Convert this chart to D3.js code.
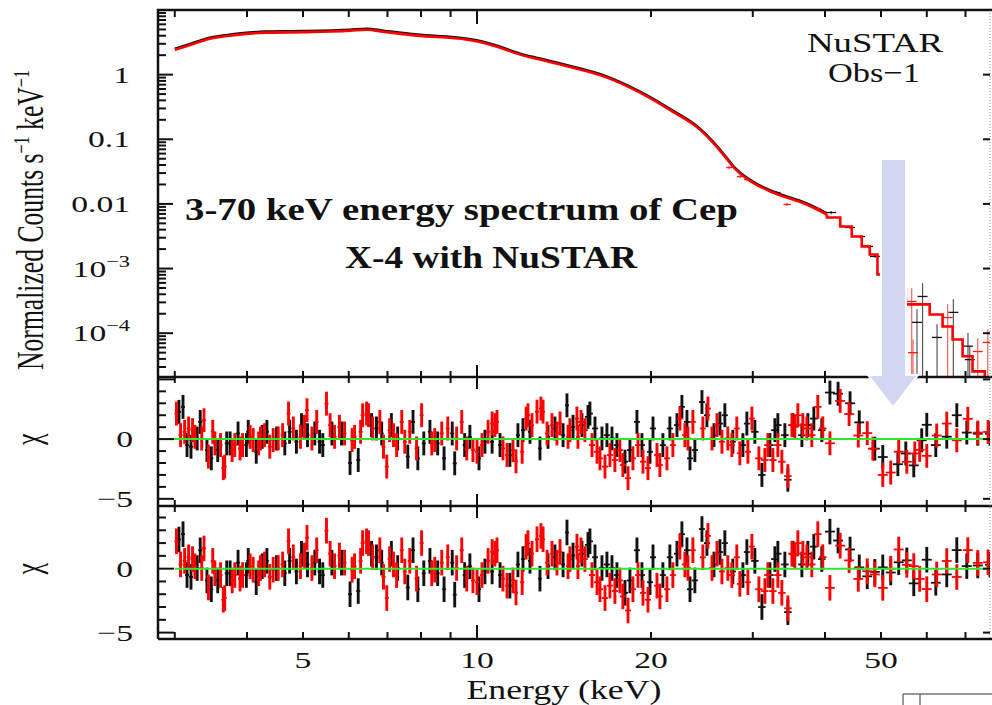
<!DOCTYPE html>
<html><head>
<meta charset="UTF-8">
<title>Cep X-4 NuSTAR spectrum</title>
<script src="https://d3js.org/d3.v7.min.js"></script>
<style>
  body { margin: 0; background: #fff; }
  svg { display: block; }
  text { font-family: "Liberation Serif", "Times New Roman", serif; fill: #111; }
  .frame { stroke: #111; stroke-width: 2.5; fill: none; }
  .tick { stroke: #111; stroke-width: 2; }
</style>
</head>
<body>
<script>
// ---- data ----
// unfolded spectrum (data, keV vs normalized counts)
var specE = [3.0, 3.2, 3.45, 3.8, 4.3, 5.0, 6.03, 6.45, 6.88, 7.87, 9.61, 10.24, 10.96, 11.87, 12.85, 14.66, 16.79, 19.14, 21.8, 24.3, 25.6, 27.1, 27.7, 30.0, 32.5, 37.2, 40.3];
var specF = [2.43, 2.91, 3.6, 4.08, 4.46, 4.54, 4.78, 4.96, 4.62, 4.01, 3.47, 3.12, 2.61, 2.04, 1.71, 1.28, 0.90, 0.527, 0.268, 0.141, 0.089, 0.0486, 0.0379, 0.0214, 0.0150, 0.0098, 0.00686];

// model histogram above 40 keV (bin edges / values)
var stepEdges = [40.3, 42.5, 44.5, 46.3, 47.8, 49.3, 52.0, 55.2, 60.7, 63.9, 66.5, 69.2, 72.0, 75.6, 78.7];
var stepF = [0.00616, 0.00448, 0.00313, 0.0022, 0.00165, 0.00081, 0.00048, 0.000279, 0.000195, 0.000127, 0.000080, 0.000044, 0.0000257, 0.000016];

// individual data crosses in the upper panel
var topRedE = [27.3, 28.5, 29.3, 34.4, 38.8, 56.5, 56.8, 65.2, 73.5, 76.5];
var topRedF = [0.0365, 0.0265, 0.0238, 0.0098, 0.0085, 3.1e-4, 5.0e-5, 1.75e-4, 5.2e-5, 7.2e-5];
var topBlackE = [33.0, 41.0, 44.2, 46.0, 47.5, 48.8, 57.7, 59.0, 62.5, 66.7, 70.7, 71.2];
var topBlackF = [0.0150, 0.00736, 0.00432, 0.00313, 0.0022, 0.00154, 1.47e-4, 3.7e-4, 8.6e-5, 2.1e-4, 6.3e-5, 3.9e-5];

// residuals below 40 keV (same in both chi panels)
var lowBlackE = [3.05,3.10,3.15,3.20,3.28,3.32,3.41,3.47,3.56,3.69,3.74,3.86,3.99,4.02,4.15,4.25,4.33,4.50,4.65,4.74,4.87,4.97,5.09,5.24,5.34,5.41,5.61,5.83,6.03,6.23,6.57,6.70,6.84,7.11,7.29,7.59,7.75,7.90,8.09,8.29,8.55,8.77,9.06,9.15,9.52,9.72,10.08,10.32,10.62,10.96,11.40,11.77,12.01,12.35,12.85,13.27,13.64,14.09,14.31,14.66,15.19,15.56,15.68,16.00,16.45,16.78,17.12,17.46,18.03,18.39,18.91,19.29,19.92,20.16,20.97,21.56,22.18,22.62,23.08,23.36,23.82,24.50,24.99,25.70,26.32,26.84,27.71,28.84,29.30,30.25,31.11,32.12,32.76,33.15,34.09,34.50,35.20,36.48,37.36,38.26,39.49];
var lowBlackChi = [2.28,2.7,-0.5,-0.64,0.05,1.44,-0.92,-1.61,-0.92,-0.36,-0.36,0.47,-0.5,0.61,-1.06,0.19,0.61,0.05,-0.36,0.61,-0.22,1.17,0.33,0.47,-0.22,-0.5,0.47,0.47,-2.0,-1.75,1.17,0.89,0.47,1.17,0.05,-1.47,1.44,-1.61,-0.36,0.61,-0.36,-1.61,0.47,-2.03,-0.5,0.19,-1.61,-0.22,-0.22,-0.5,-1.33,0.33,0.75,0.61,-0.78,0.19,0.89,0.33,2.83,1.03,1.17,1.86,2.14,0.89,0.05,0.33,0.05,-0.5,-1.89,-0.92,1.44,-0.5,-1.06,0.89,-0.5,0.89,1.17,2.7,1.44,-1.61,-0.92,3.1,2.0,0.33,1.3,2.0,-0.22,-0.5,1.3,0.61,-3.0,-0.5,0.75,1.17,0.33,-3.4,1.17,0.33,1.17,1.72,0.75];
var lowRedE = [3.02,3.07,3.12,3.17,3.22,3.25,3.34,3.37,3.43,3.49,3.52,3.60,3.64,3.66,3.77,3.81,3.89,3.93,4.05,4.10,4.19,4.22,4.29,4.38,4.44,4.53,4.61,4.72,4.81,4.95,5.03,5.08,5.18,5.28,5.49,5.57,5.67,5.78,5.90,6.08,6.14,6.29,6.34,6.44,6.49,6.60,6.79,6.89,6.98,7.06,7.17,7.26,7.41,7.50,7.65,7.86,8.02,8.35,8.45,8.69,8.90,9.22,9.41,9.60,9.84,10.00,10.20,10.45,10.62,10.74,10.83,11.09,11.27,11.54,11.68,11.97,12.16,12.25,12.45,12.70,12.90,13.01,13.22,13.48,13.75,13.92,14.37,14.48,14.89,14.95,15.13,15.37,15.81,16.13,16.32,16.65,16.98,17.32,17.67,17.88,18.25,18.61,18.99,19.37,19.76,20.48,20.72,21.31,21.82,22.44,22.89,23.17,23.63,24.59,25.09,25.50,26.01,26.53,27.16,27.60,28.15,28.49,29.42,29.89,30.74,31.48,31.86,32.50,33.15,33.68,34.50,35.06,35.47,35.90,36.62,37.21,37.95,38.87,39.65];
var lowRedChi = [2.14,0.33,0.61,0.89,0.75,0.19,0.05,1.58,-1.47,0.61,-0.36,-0.5,-2.43,-2.3,-0.92,-0.5,-0.78,-0.5,0.19,-0.08,-0.36,0.05,0.33,-0.64,-0.08,0.05,0.33,2.14,0.89,0.19,1.03,2.42,0.05,1.44,2.97,1.17,0.19,1.03,0.47,-0.08,0.19,0.61,2.0,2.14,2.0,0.89,1.44,-0.64,-2.3,0.75,0.33,-0.5,1.44,-0.22,0.61,-0.78,2.0,-0.36,-0.08,0.47,0.89,0.05,1.44,-0.78,-0.92,-1.06,-0.5,0.61,1.31,1.17,1.44,-0.78,-1.33,-0.92,-1.86,-1.06,1.72,2.0,1.17,2.3,2.56,2.3,0.47,1.17,0.47,1.31,0.19,0.75,1.72,0.19,1.44,0.75,-0.5,-1.06,-1.61,-2.3,-1.33,-1.75,-0.92,-2.17,-3.27,-1.61,-0.5,-1.89,-2.43,-1.33,-2.17,-1.61,-0.5,1.72,0.33,0.05,1.44,0.89,2.56,0.05,1.17,-0.22,0.05,-0.5,0.89,-1.19,-1.06,1.72,-1.61,-1.75,-0.5,-1.75,-0.5,-1.89,-3.1,1.17,1.03,2.0,1.17,0.89,0.33,2.7,0.9];

// residuals above 40 keV, middle panel
var midHiBlackE = [40.79,42.14,44.20,45.85,48.78,50.35,53.47,55.19,56.97,58.80,60.00,62.19,64.97,67.62,70.37,73.51,77.2];
var midHiBlackChi = [3.9,3.8,3.0,1.4,-0.8,-1.5,-2.1,-1.2,-2.2,-0.1,1.2,-0.5,0.2,2.0,0.55,0.45,0.45];
var midHiRedE = [40.79,42.49,44.03,45.67,47.33,48.40,50.35,51.97,53.65,55.41,57.20,58.33,60.00,62.42,64.97,67.62,70.65,73.51,76.6];
var midHiRedChi = [-0.35,3.2,2.1,0.3,0.5,-0.8,-3.0,-2.8,-1.05,-1.9,-1.2,-0.9,-1.4,0.3,1.3,-0.1,1.7,0.55,0.6];

// residuals above 40 keV, lower panel
var botHiBlackE = [40.79,42.14,44.20,45.85,47.33,48.78,50.35,51.97,53.65,55.41,56.97,60.00,62.19,64.97,67.62,70.37,73.51,77.2];
var botHiBlackChi = [2.9,2.2,1.5,0.1,-0.6,-0.25,0.1,-0.3,0.5,0.65,-1.15,0.7,-1.1,-0.45,1.45,0.2,0.25,0.3];
var botHiRedE = [40.79,42.49,44.03,45.67,47.33,48.78,50.35,51.97,53.65,55.41,56.97,58.33,60.00,62.42,64.97,67.62,70.65,73.51,76.6];
var botHiRedChi = [-1.5,1.8,0.65,-0.8,-0.2,-0.45,-1.5,0.0,1.5,0.3,0.2,-0.8,-1.6,-0.45,0.6,-0.65,1.45,0.45,0.5];

// tick labels
var xTickLabels = [5, 10, 20, 50];
var specTickVals = [1, 0.1, 0.01, 1e-3, 1e-4];
var specTickText = ["1", "0.1", "0.01", "10|\u22123", "10|\u22124"];
var chiTickVals = [0, -5];
var chiTickText = ["0", "\u22125"];

// ---- layout ----
var W = 992, H = 705;
var xL = 158, xR = 990;

var svg = d3.select("body").append("svg").attr("width", W).attr("height", H);

var x = d3.scaleLog().domain([2.806, 77.8]).range([158, 992]);
var ySpec = d3.scaleLog().domain([2.1e-5, 10]).range([377, 10]);
var yMid = d3.scaleLinear().domain([-5.6, 5.2]).range([506, 377]);
var yBot = d3.scaleLinear().domain([-5.5, 4.9]).range([639, 506]);

// clip regions for each panel
var defs = svg.append("defs");
function clip(id, y0, y1) {
  defs.append("clipPath").attr("id", id).append("rect")
    .attr("x", xL).attr("y", y0).attr("width", xR - xL).attr("height", y1 - y0);
}
clip("cTop", 10, 377); clip("cMid", 377, 506); clip("cBot", 506, 639);

// half bin width (multiplicative, in energy)
function binFac(e) {
  if (e < 15) return 1.008;
  if (e < 30) return 1.012;
  if (e < 40) return 1.015;
  return 1.02;
}

// ---- upper panel: spectrum ----
var gTop = svg.append("g").attr("clip-path", "url(#cTop)");
var specLine = d3.line().curve(d3.curveMonotoneX)
  .x(function(d){ return x(d[0]); }).y(function(d){ return ySpec(d[1]); });

gTop.append("path").datum(d3.zip(specE, specF))
  .attr("d", specLine).attr("transform", "translate(0,-1)")
  .attr("fill", "none").attr("stroke", "#111").attr("stroke-width", 2.6);

function specCrosses(es, fs, color) {
  var pts = d3.zip(es, fs);
  var g = gTop.append("g").attr("stroke", color);
  g.selectAll("line.v").data(pts).join("line").attr("class", "v")
    .attr("x1", function(d){ return x(d[0]); }).attr("x2", function(d){ return x(d[0]); })
    .attr("y1", function(d){ return ySpec(d[0] > 50 ? d[1] * 1.6 : d[1] * 1.06); })
    .attr("y2", function(d){ return ySpec(d[0] > 50 ? d[1] * 0.05 : d[1] / 1.06); })
    .attr("stroke-width", 1.2).attr("stroke-opacity", 0.7);
  g.selectAll("line.h").data(pts).join("line").attr("class", "h")
    .attr("x1", function(d){ return x(d[0] / binFac(d[0])); })
    .attr("x2", function(d){ return x(d[0] * binFac(d[0])); })
    .attr("y1", function(d){ return ySpec(d[1]); }).attr("y2", function(d){ return ySpec(d[1]); })
    .attr("stroke-width", 1.3);
}
specCrosses(topBlackE, topBlackF, "#111");
specCrosses(topRedE, topRedF, "#ff1a1a");

// model: smooth part then histogram
gTop.append("path").datum(d3.zip(specE, specF))
  .attr("d", specLine).attr("fill", "none").attr("stroke", "#ff0000").attr("stroke-width", 2.6);
var stepPts = [[specE[specE.length - 1], specF[specF.length - 1]]]
  .concat(d3.zip(stepEdges, stepF.concat([stepF[stepF.length - 1]])));
var stepLine = d3.line().curve(d3.curveStepAfter)
  .x(function(d){ return x(d[0]); }).y(function(d){ return ySpec(d[1]); });
gTop.append("path").datum(stepPts)
  .attr("d", stepLine)
  .attr("fill", "none").attr("stroke", "#ff0000").attr("stroke-width", 2.6);

// ---- residual panels ----
function residuals(clipId, yS, sets, greenFrom) {
  var g = svg.append("g").attr("clip-path", "url(#" + clipId + ")");
  sets.forEach(function(s) {
    var pts = d3.zip(s.e, s.c);
    var gg = g.append("g").attr("stroke", s.color).attr("stroke-width", 2.9);
    gg.selectAll("line.v").data(pts).join("line").attr("class", "v")
      .attr("x1", function(d){ return x(d[0]); }).attr("x2", function(d){ return x(d[0]); })
      .attr("y1", function(d){ return yS(d[1] - 1); }).attr("y2", function(d){ return yS(d[1] + 1); });
    gg.selectAll("line.h").data(pts).join("line").attr("class", "h")
      .attr("x1", function(d){ return x(d[0] / binFac(d[0])); })
      .attr("x2", function(d){ return x(d[0] * binFac(d[0])); })
      .attr("y1", function(d){ return yS(d[1]); }).attr("y2", function(d){ return yS(d[1]); })
      .attr("stroke-width", 1.8);
  });
  g.append("line")
    .attr("x1", greenFrom ? x(greenFrom) : xL).attr("x2", xR)
    .attr("y1", yS(0)).attr("y2", yS(0))
    .attr("stroke", "#2ee82e").attr("stroke-width", 2);
}
residuals("cMid", yMid, [
  { e: lowBlackE.concat(midHiBlackE), c: lowBlackChi.concat(midHiBlackChi), color: "#111" },
  { e: lowRedE.concat(midHiRedE), c: lowRedChi.concat(midHiRedChi), color: "#ff0000" }
], null);
residuals("cBot", yBot, [
  { e: lowBlackE.concat(botHiBlackE), c: lowBlackChi.concat(botHiBlackChi), color: "#111" },
  { e: lowRedE.concat(botHiRedE), c: lowRedChi.concat(botHiRedChi), color: "#ff0000" }
], 3.0);

// ---- frames and ticks ----
svg.append("path").attr("class", "frame")
  .attr("d", "M" + xL + ",639V10H992M" + xL + ",377H992M" + xL + ",506H992M" + xL + ",639H992");
svg.append("line").attr("x1", xR).attr("x2", xR).attr("y1", 10).attr("y2", 639)
  .attr("stroke", "#888").attr("stroke-width", 1).attr("stroke-dasharray", "1,2");

var xTicks = x.ticks();
function xTickRow(y, up, down) {
  svg.append("g").selectAll("line").data(xTicks).join("line").attr("class", "tick")
    .attr("x1", function(d){ return x(d); }).attr("x2", function(d){ return x(d); })
    .attr("y1", function(d){ return y - (d === 10 ? 2 : 1) * up; })
    .attr("y2", function(d){ return y + (d === 10 ? 2 : 1) * down; });
}
xTickRow(10, 0, 7);
xTickRow(377, 6, 6);
xTickRow(506, 6, 6);
xTickRow(639, 7, 0);

// y ticks upper panel
var sTicks = ySpec.ticks();
function isDecade(v) { return Math.abs(Math.log10(v) - Math.round(Math.log10(v))) < 1e-6; }
svg.append("g").selectAll("line").data(sTicks).join("line").attr("class", "tick")
  .attr("x1", xL).attr("x2", function(d){ return xL + (isDecade(d) ? 15 : 8); })
  .attr("y1", function(d){ return ySpec(d); }).attr("y2", function(d){ return ySpec(d); });
svg.append("g").selectAll("line").data(sTicks.filter(isDecade)).join("line").attr("class", "tick")
  .attr("x1", xR).attr("x2", xR - 7)
  .attr("y1", function(d){ return ySpec(d); }).attr("y2", function(d){ return ySpec(d); });

// y ticks chi panels
[yMid, yBot].forEach(function(yS) {
  var t = d3.range(-5, 6).filter(function(v){ return yS(v) <= yS.range()[0] - 1 && yS(v) >= yS.range()[1] + 1; });
  svg.append("g").selectAll("line").data(t).join("line").attr("class", "tick")
    .attr("x1", xL).attr("x2", function(d){ return xL + (d % 5 === 0 ? 16 : 8); })
    .attr("y1", function(d){ return yS(d); }).attr("y2", function(d){ return yS(d); });
  svg.append("g").selectAll("line").data(t.filter(function(d){ return d % 5 === 0; })).join("line").attr("class", "tick")
    .attr("x1", xR).attr("x2", xR - 7)
    .attr("y1", function(d){ return yS(d); }).attr("y2", function(d){ return yS(d); });
});

// ---- text ----
function stext(str, x0, y0, size, anchor) {
  return svg.append("text")
    .attr("transform", "translate(" + x0 + "," + y0 + ") scale(1.4,1)")
    .attr("text-anchor", anchor || "middle").style("font-size", size + "px").text(str);
}

xTickLabels.forEach(function(v) { stext(String(v), x(v), 668, 24, "middle"); });

specTickVals.forEach(function(v, i) {
  var parts = specTickText[i].split("|");
  var t = stext(parts[0], 130, ySpec(v) + 8, 24, "end");
  if (parts[1]) {
    t.append("tspan").attr("dy", -10).style("font-size", "16px").text(parts[1]);
  }
});

chiTickVals.forEach(function(v, i) {
  stext(chiTickText[i], 133, yMid(v) + 8, 24, "end");
  stext(chiTickText[i], 133, yBot(v) + 8, 24, "end");
});

// y title
var yt = svg.append("text")
  .attr("transform", "translate(43,220) scale(1.4,1) rotate(-90)")
  .attr("text-anchor", "middle").style("font-size", "27px")
  .attr("textLength", 300).attr("lengthAdjust", "spacingAndGlyphs");
yt.append("tspan").text("Normalized Counts s");
yt.append("tspan").attr("dy", -10).style("font-size", "17px").text("\u22121");
yt.append("tspan").attr("dy", 10).text(" keV");
yt.append("tspan").attr("dy", -10).style("font-size", "17px").text("\u22121");

[yMid(0), yBot(0)].forEach(function(yc) {
  svg.append("text").attr("transform", "translate(40," + yc + ") scale(1.4,1) rotate(-90)")
    .attr("text-anchor", "middle").style("font-size", "26px").text("\u03c7");
});

svg.append("text").attr("x", 564).attr("y", 699).attr("text-anchor", "middle")
  .style("font-size", "28px").attr("textLength", 195).attr("lengthAdjust", "spacingAndGlyphs")
  .text("Energy (keV)");

svg.append("text").attr("x", 875).attr("y", 52).attr("text-anchor", "middle")
  .style("font-size", "28px").attr("textLength", 136).attr("lengthAdjust", "spacingAndGlyphs")
  .text("NuSTAR");
svg.append("text").attr("x", 874).attr("y", 82).attr("text-anchor", "middle")
  .style("font-size", "28px").attr("textLength", 92).attr("lengthAdjust", "spacingAndGlyphs")
  .text("Obs\u22121");

// slide annotation
svg.append("text").attr("x", 185).attr("y", 220)
  .style("font-size", "31px").style("font-weight", "bold")
  .attr("textLength", 553).attr("lengthAdjust", "spacingAndGlyphs")
  .text("3-70 keV energy spectrum of Cep");
svg.append("text").attr("x", 345).attr("y", 268)
  .style("font-size", "31px").style("font-weight", "bold")
  .attr("textLength", 292).attr("lengthAdjust", "spacingAndGlyphs")
  .text("X-4 with NuSTAR");

// arrow
svg.append("polygon")
  .attr("points", "882,160 905,160 905,376 916,376 893,406 870,376 882,376")
  .attr("fill", "#d3d6f2").attr("stroke", "#fff").attr("stroke-width", 4)
  .style("paint-order", "stroke");

// cropped box at bottom right
svg.append("path").attr("d", "M903,706V694H992M920,694V706")
  .attr("fill", "none").attr("stroke", "#333").attr("stroke-width", 1);
</script>
</body>
</html>
